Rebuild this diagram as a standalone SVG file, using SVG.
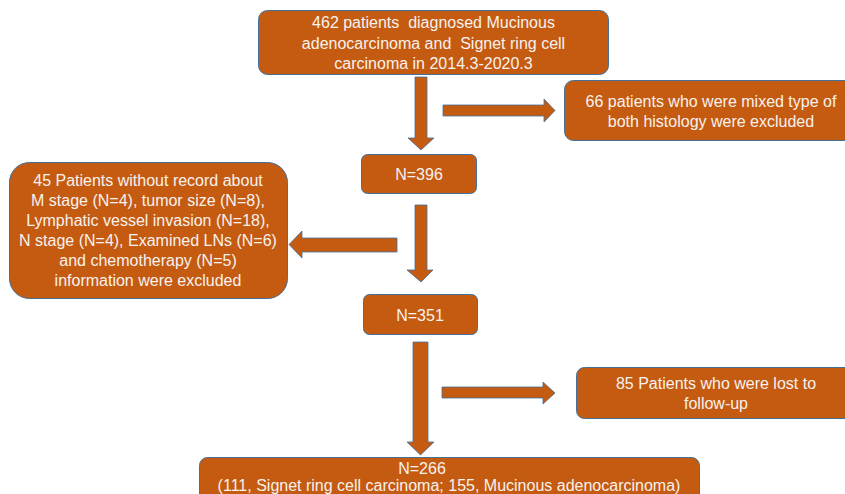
<svg xmlns="http://www.w3.org/2000/svg" width="845" height="494" viewBox="0 0 845 494">
<style>
.box{fill:#C55A11;stroke:#41719C;stroke-width:1}
.arr{fill:#C55A11;stroke:#41719C;stroke-width:0.8}
text{font-family:"Liberation Sans","Noto Sans",Arial,sans-serif;font-size:16px;fill:#F7F2EE;text-anchor:middle;white-space:pre}
</style>
<rect width="845" height="494" fill="#FFFFFF"/>
<g id="connectors">
<path class="arr" d="M415,77 H427 V138 H434 L421,150 L408,138 H415 Z"/>
<path class="arr" d="M443,105 H544 V99 L555,110.5 L544,122 V116 H443 Z"/>
<path class="arr" d="M415,205 H427 V270 H433 L421,282 L407,270 H415 Z"/>
<path class="arr" d="M397,238 V252 H302 V258 L289,244.5 L302,231 V238 Z"/>
<path class="arr" d="M413,342 H428 V442 H434 L420.5,455 L407,442 H413 Z"/>
<path class="arr" d="M442,387 H543 V382 L555,393 L543,404 V398 H442 Z"/>
</g>
<g id="n_start">
<rect class="box" x="258.5" y="10.5" width="350" height="64" rx="9"/>
<text x="433.5" y="28">462 patients&#160; diagnosed Mucinous</text>
<text x="433.5" y="49">adenocarcinoma and&#160; Signet ring cell</text>
<text x="433.5" y="69">carcinoma in 2014.3-2020.3</text>
</g>
<g id="n_excl1">
<rect class="box" x="564.5" y="80.5" width="290" height="60" rx="9"/>
<text x="711" y="107">66 patients who were mixed type of</text>
<text x="711" y="127">both histology were excluded</text>
</g>
<g id="n_396">
<rect class="box" x="361.5" y="154.5" width="115" height="39" rx="6"/>
<text x="419" y="180">N=396</text>
</g>
<g id="n_excl2">
<rect class="box" x="9.5" y="162.5" width="278" height="136" rx="20"/>
<text x="148" y="186">45 Patients without record about</text>
<text x="148" y="206">M stage (N=4), tumor size (N=8),</text>
<text x="148" y="226">Lymphatic vessel invasion (N=18),</text>
<text x="148" y="246">N stage (N=4), Examined LNs (N=6)</text>
<text x="148" y="266">and chemotherapy (N=5)</text>
<text x="148" y="286">information were excluded</text>
</g>
<g id="n_351">
<rect class="box" x="363.5" y="294.5" width="114" height="40" rx="6"/>
<text x="420" y="321">N=351</text>
</g>
<g id="n_excl3">
<rect class="box" x="576.5" y="367.5" width="278" height="51" rx="8"/>
<text x="716" y="389">85 Patients who were lost to</text>
<text x="716" y="409">follow-up</text>
</g>
<g id="n_final">
<rect class="box" x="199.5" y="457.5" width="500" height="50" rx="8"/>
<text x="422" y="474">N=266</text>
<text x="449" y="491">(111, Signet ring cell carcinoma; 155, Mucinous adenocarcinoma)</text>
</g>
</svg>
